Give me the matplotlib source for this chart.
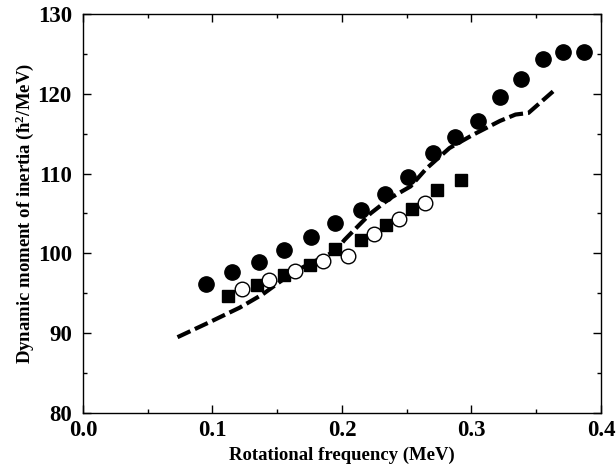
import numpy as np
import matplotlib
matplotlib.use("Agg")
from matplotlib import pyplot as plt
from matplotlib.ticker import MultipleLocator, FormatStrFormatter

# Filled circles
circ_x = [0.095, 0.115, 0.136, 0.155, 0.176, 0.195, 0.215, 0.233, 0.251, 0.270,
          0.287, 0.305, 0.322, 0.338, 0.355, 0.371, 0.387]
circ_y = [96.2, 97.7, 98.9, 100.4, 102.0, 103.8, 105.5, 107.5, 109.6, 112.6,
          114.6, 116.6, 119.6, 121.9, 124.4, 125.3, 125.2]

# Filled squares
sq_x = [0.112, 0.134, 0.155, 0.175, 0.195, 0.215, 0.234, 0.254, 0.273, 0.292]
sq_y = [94.6, 96.0, 97.3, 98.6, 100.5, 101.7, 103.6, 105.6, 107.9, 109.2]

# Open circles
oc_x = [0.123, 0.144, 0.164, 0.185, 0.205, 0.225, 0.244, 0.264]
oc_y = [95.6, 96.7, 97.8, 99.0, 99.7, 102.4, 104.3, 106.3]

# Dashed calculation
calc_x = [0.073, 0.098, 0.121, 0.139, 0.150, 0.162, 0.175, 0.195, 0.202, 0.222,
          0.237, 0.253, 0.265, 0.283, 0.301, 0.322, 0.334, 0.344, 0.363]
calc_y = [89.5, 91.4, 93.2, 94.9, 96.2, 97.6, 98.7, 100.3, 101.7, 105.0,
          106.9, 108.4, 110.6, 113.2, 114.85, 116.6, 117.4, 117.6, 120.3]

plt.rcParams["font.family"] = ["Liberation Serif", "DejaVu Serif"]
plt.rcParams["font.weight"] = "bold"
plt.rcParams["mathtext.fontset"] = "custom"
plt.rcParams["mathtext.rm"] = "Liberation Serif:bold"
plt.rcParams["mathtext.bf"] = "Liberation Serif:bold"
plt.rcParams["mathtext.it"] = "Liberation Serif:bold"

fig = plt.figure(figsize=(6.16, 4.70), dpi=100)
ax = fig.add_axes([0.1347, 0.1213, 0.8409, 0.8489])

ax.plot(calc_x, calc_y, ls=(0, (3.4, 1.2)), c="black", lw=3.0, zorder=2)
ax.plot(sq_x, sq_y, "s", ms=9.2, c="black", mec="black", zorder=3)
ax.plot(oc_x, oc_y, "o", ms=10.5, mfc="white", mec="black", mew=1.0, zorder=4)
ax.plot(circ_x, circ_y, "o", ms=11, c="black", zorder=3)

ax.set_xlim(0, 0.4)
ax.set_ylim(80, 130)
ax.xaxis.set_major_locator(MultipleLocator(0.1))
ax.xaxis.set_minor_locator(MultipleLocator(0.05))
ax.yaxis.set_major_locator(MultipleLocator(10))
ax.yaxis.set_minor_locator(MultipleLocator(5))
ax.xaxis.set_major_formatter(FormatStrFormatter("%.1f"))

ax.tick_params(which="both", direction="in", top=True, right=True, width=1.0)
ax.tick_params(which="major", length=6, labelsize=16.5)
ax.tick_params(axis="x", which="major", pad=5)
ax.tick_params(axis="y", which="major", pad=8)
ax.tick_params(which="minor", length=3)
for sp in ax.spines.values():
    sp.set_linewidth(1.0)

ax.set_xlabel("Rotational frequency (MeV)", fontsize=13.5, fontweight="bold", labelpad=4)
ax.set_ylabel(r"Dynamic moment of inertia (ħ$^{2}$/MeV)", fontsize=13.5, fontweight="bold", labelpad=1)

plt.savefig("out.png", dpi=100)
plt.close()
